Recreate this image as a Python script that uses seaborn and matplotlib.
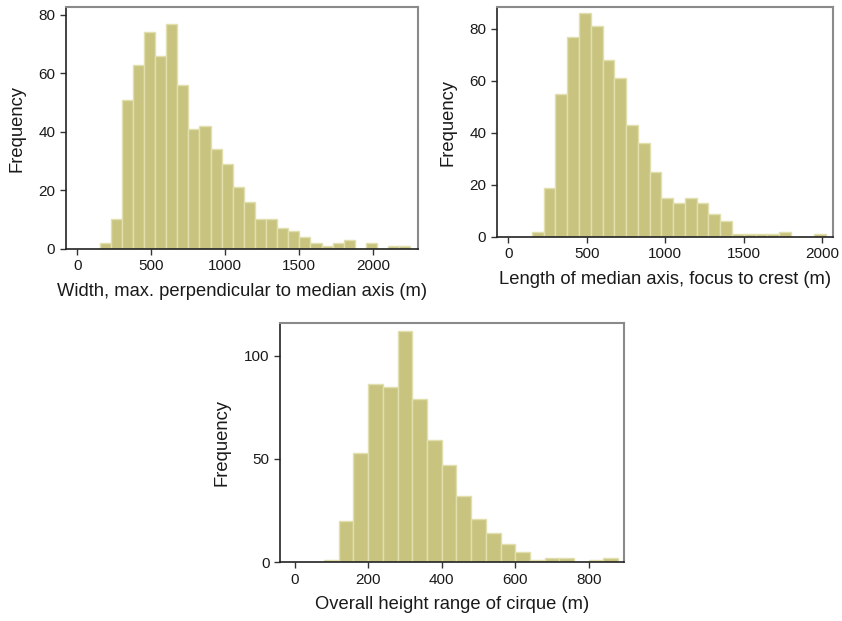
import numpy as np
import pandas as pd
import matplotlib
matplotlib.use("Agg")
import matplotlib.pyplot as plt
import seaborn as sns

# bin edges (m) and counts
width_edges = list(range(150, 2250 + 1, 75))
width_counts = [2, 10, 51, 63, 74, 66, 77, 56, 41, 42, 34, 29, 21, 16,
                10, 10, 7, 6, 4, 2, 1, 2, 3, 0, 2, 0, 1, 1]

length_edges = list(range(150, 2025 + 1, 75))
length_counts = [2, 19, 55, 77, 86, 81, 68, 61, 43, 36, 25, 15, 13, 15,
                 13, 9, 6, 1, 1, 1, 1, 2, 0, 0, 1]

height_edges = list(range(80, 880 + 1, 40))
height_counts = [1, 20, 53, 86, 85, 112, 79, 59, 47, 32, 21, 14, 9, 5,
                 1, 2, 2, 0, 1, 2]

width_label = "Width, max. perpendicular to median axis (m)"
length_label = "Length of median axis, focus to crest (m)"
height_label = "Overall height range of cirque (m)"

BAR_COLOR = "#c8c47f"
EDGE_COLOR = "#e2dfae"

sns.set_style("white")
plt.rcParams["font.family"] = ["Liberation Sans", "DejaVu Sans"]


def draw_hist(ax, edges, counts, xlabel, xlim, ylim, xticks, yticks):
    e = np.asarray(edges, dtype=float)
    centers = (e[:-1] + e[1:]) / 2
    df = pd.DataFrame({"x": centers, "n": counts})
    sns.histplot(data=df, x="x", weights="n", bins=edges, ax=ax,
                 color=BAR_COLOR, edgecolor=EDGE_COLOR, linewidth=1.0, alpha=1)
    ax.set_xlim(*xlim)
    ax.set_ylim(*ylim)
    ax.set_xticks(xticks)
    ax.set_yticks(yticks)
    ax.set_xlabel(xlabel, fontsize=13.2, labelpad=7, color="#1a1a1a")
    ax.set_ylabel("Frequency", fontsize=13.2, labelpad=9.5, color="#1a1a1a")
    ax.tick_params(axis="both", labelsize=11, length=4, width=1,
                   direction="out", color="#333333", labelcolor="#1a1a1a",
                   bottom=True, left=True)
    for side in ["left", "bottom"]:
        ax.spines[side].set_color("#222222")
        ax.spines[side].set_linewidth(1.2)
    for side in ["top", "right"]:
        ax.spines[side].set_color("#8a8a8a")
        ax.spines[side].set_linewidth(1.5)


fig = plt.figure(figsize=(8.42, 6.21), dpi=100)
ax1 = fig.add_axes([0.078, 0.5995, 0.4188, 0.3887])
ax2 = fig.add_axes([0.5899, 0.6184, 0.399, 0.3699])
ax3 = fig.add_axes([0.3325, 0.0945, 0.4086, 0.3849])

draw_hist(ax1, width_edges, width_counts, width_label,
          (-79, 2304), (0, 82.6), [0, 500, 1000, 1500, 2000], [0, 20, 40, 60, 80])
draw_hist(ax2, length_edges, length_counts, length_label,
          (-74, 2066), (0, 88.3), [0, 500, 1000, 1500, 2000], [0, 20, 40, 60, 80])
draw_hist(ax3, height_edges, height_counts, height_label,
          (-40, 896), (0, 115.6), [0, 200, 400, 600, 800], [0, 50, 100])

fig.savefig("out.png", dpi=100)
